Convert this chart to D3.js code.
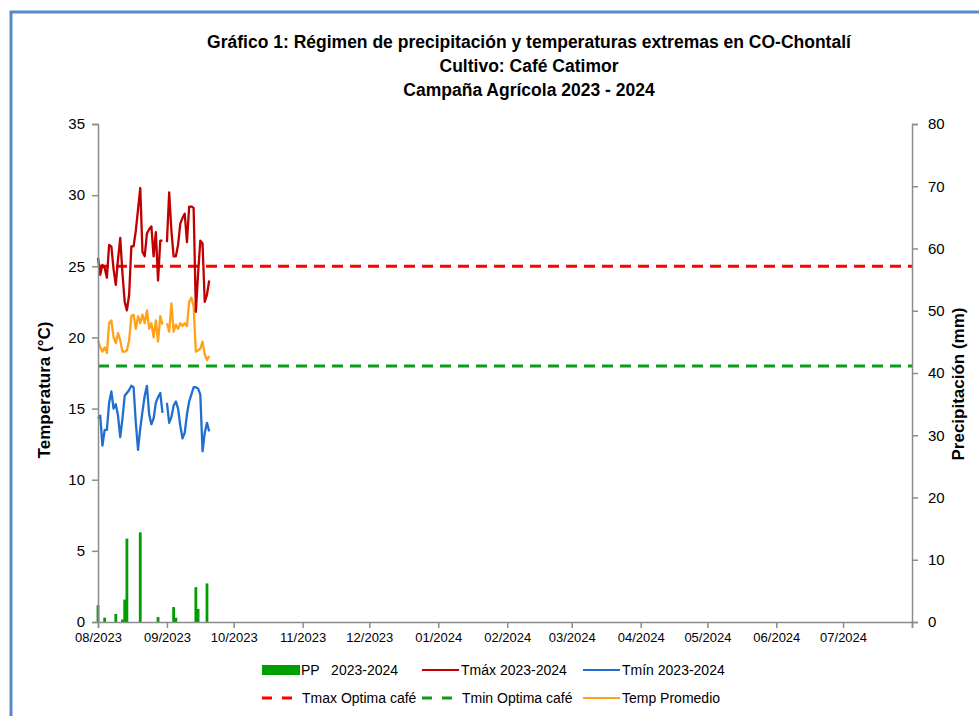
<!DOCTYPE html>
<html>
<head>
<meta charset="utf-8">
<script src="https://cdn.jsdelivr.net/npm/d3@7"></script>
<style>
  body { margin: 0; background: #fff; }
  svg { display: block; font-family: "Liberation Sans", Arial, sans-serif; }
</style>
</head>
<body>
<svg id="chart" width="979" height="716"></svg>
<script>
// daily series from 01/08/2023 (null = missing day)
var startDate = "2023-08-01"

var tmax = [25.6, 24.4, 25.1, 24.9, 24.2, 26.5, 26.4, 24.8, 23.7, 25.5,
            27.0, 24.5, 22.5, 21.9, 23.0, 26.4, 26.4, 27.5, 29.0, 30.5,
            26.0, 25.7, 27.3, 27.6, 27.8, 25.7, 27.4, 24.0, 26.8, 26.8,
            null, 26.7, 30.2, 27.5, 25.7, 25.7, 26.5, 28.0, 28.4, 28.7,
            26.7, 29.2, 29.2, 29.1, 21.8, 24.5, 26.8, 26.6, 22.5, 23.0, 24.0]

var tmin = [14.3, 14.5, 12.4, 13.5, 13.5, 15.4, 16.2, 15.0, 15.3, 14.5,
            13.0, 14.3, 15.9, 16.1, 16.3, 16.6, 16.5, 14.0, 12.1, 13.6,
            14.8, 15.9, 16.6, 14.6, 13.9, 14.3, 15.4, 15.8, 16.1, 14.7,
            null, 15.4, 14.0, 14.4, 15.2, 15.5, 15.0, 13.8, 12.9, 13.3,
            14.6, 15.5, 16.0, 16.5, 16.5, 16.4, 16.0, 12.0, 13.3, 14.0, 13.4]

var tmean = [19.8, 19.3, 19.0, 19.3, 18.9, 21.0, 21.2, 20.0, 19.6, 20.3,
             19.8, 19.0, 19.0, 19.1, 19.8, 21.5, 21.6, 20.6, 21.5, 21.0,
             21.6, 21.0, 21.9, 20.6, 21.0, 20.0, 21.2, 19.7, 21.5, 20.9,
             null, 21.0, 20.4, 22.4, 20.4, 20.9, 20.6, 21.0, 20.8, 21.0,
             20.8, 22.5, 22.8, 22.2, 19.0, 19.1, 19.2, 19.7, 18.8, 18.4, 18.7]

var pp = [2.7, 0, 0, 0.7, 0, 0, 0, 0, 1.3, 0,
          0, 0.4, 3.6, 13.4, 0, 0, 0, 0, 0, 14.4,
          0, 0, 0, 0, 0, 0, 0, 0.8, 0, 0,
          0, 0, 0, 0, 2.4, 0.7, 0, 0, 0, 0,
          0, 0, 0, 0, 5.6, 2.1, 0, 0, 0, 6.2, 0]

var tmaxOptima = 25
var tminOptima = 18

var tempTicks = [0, 5, 10, 15, 20, 25, 30, 35]
var ppTicks = [0, 10, 20, 30, 40, 50, 60, 70, 80]

var titleLines = [
    "Gráfico 1: Régimen de precipitación y temperaturas extremas en CO-Chontalí",
    "Cultivo: Café Catimor",
    "Campaña Agrícola 2023 - 2024"
]

var colors = {
    pp: "#009e00",
    tmax: "#c00000",
    tmin: "#1f6fd1",
    tmean: "#ffa21a",
    tmaxOpt: "#ff0000",
    tminOpt: "#0b9c1c",
    axis: "#8c8c8c"
}

var svg = d3.select("#chart")
var plotLeft = 98, plotRight = 912, plotTop = 124, plotBottom = 622

var day0 = d3.timeParse("%Y-%m-%d")(startDate)
var dayEnd = new Date(2024, 7, 1)
var dates = tmax.map(function (d, i) { return d3.timeDay.offset(day0, i) })

var x = d3.scaleTime()
    .domain([day0, dayEnd])
    .range([plotLeft, plotRight])
var yTemp = d3.scaleLinear().domain([0, 35]).range([plotBottom, plotTop])
var yPP = d3.scaleLinear().domain([0, 80]).range([plotBottom, plotTop])

// frame
svg.append("rect")
    .attr("x", 11).attr("y", 12)
    .attr("width", 1000).attr("height", 720)
    .attr("fill", "none")
    .attr("stroke", "#5a8ac6")
    .attr("stroke-width", 3)

// titles
svg.selectAll("text.title")
    .data(titleLines)
    .enter().append("text")
    .attr("class", "title")
    .attr("x", 529)
    .attr("y", function (d, i) { return 48 + i * 24 })
    .attr("text-anchor", "middle")
    .style("font-size", "17.5px")
    .style("font-weight", "bold")
    .text(function (d) { return d })

// precipitation bars
var barW = 2.8
svg.append("g").selectAll("rect")
    .data(pp.map(function (v, i) { return { date: dates[i], v: v } }).filter(function (d) { return d.v > 0 }))
    .enter().append("rect")
    .attr("x", function (d) { return x(d.date) - barW / 2 })
    .attr("y", function (d) { return yPP(d.v) })
    .attr("width", barW)
    .attr("height", function (d) { return yPP(0) - yPP(d.v) })
    .attr("fill", colors.pp)

// optimum reference lines
function drawOptimum(value, color) {
    svg.append("line")
        .attr("x1", plotLeft).attr("x2", plotRight)
        .attr("y1", yTemp(value)).attr("y2", yTemp(value))
        .attr("stroke", color)
        .attr("stroke-width", 3)
        .attr("stroke-dasharray", "11,7")
}
drawOptimum(tmaxOptima, colors.tmaxOpt)
drawOptimum(tminOptima, colors.tminOpt)

function drawSeries(values, color) {
    var line = d3.line()
        .defined(function (d) { return d != null })
        .x(function (d, i) { return x(dates[i]) })
        .y(function (d) { return yTemp(d) })
    svg.append("path")
        .datum(values)
        .attr("d", line)
        .attr("fill", "none")
        .attr("stroke", color)
        .attr("stroke-width", 2.3)
        .attr("stroke-linejoin", "round")
}
drawSeries(tmean, colors.tmean)
drawSeries(tmin, colors.tmin)
drawSeries(tmax, colors.tmax)

// axes
function styleAxis(g) {
    g.selectAll("path, line").attr("stroke", colors.axis).attr("stroke-width", 1.5)
    g.selectAll("text").attr("fill", "#000").style("font-family", "Liberation Sans, Arial, sans-serif")
}

svg.append("g")
    .attr("transform", "translate(" + plotLeft + ",0)")
    .call(d3.axisLeft(yTemp).tickValues(tempTicks).tickSizeOuter(0).tickSize(6).tickPadding(7))
    .call(styleAxis)
    .selectAll("text").style("font-size", "15px")

svg.append("g")
    .attr("transform", "translate(" + plotRight + ",0)")
    .call(d3.axisRight(yPP).tickValues(ppTicks).tickSizeOuter(0).tickSize(6).tickPadding(10))
    .call(styleAxis)
    .selectAll("text").style("font-size", "15px")

var months = d3.timeMonth.range(day0, dayEnd)
svg.append("g")
    .attr("transform", "translate(0," + plotBottom + ")")
    .call(d3.axisBottom(x).tickValues(months.concat([dayEnd])).tickFormat(function (d) {
        return d < dayEnd ? d3.timeFormat("%m/%Y")(d) : ""
    }).tickSizeOuter(0).tickSize(6).tickPadding(5))
    .call(styleAxis)
    .selectAll("text").style("font-size", "13px")

// axis titles
svg.append("text")
    .attr("transform", "translate(50,390) rotate(-90)")
    .attr("text-anchor", "middle")
    .style("font-size", "17px")
    .style("font-weight", "bold")
    .text("Temperatura (°C)")

svg.append("text")
    .attr("transform", "translate(964,384) rotate(-90)")
    .attr("text-anchor", "middle")
    .style("font-size", "17px")
    .style("font-weight", "bold")
    .text("Precipitación (mm)")

// legend
var legendItems = [
    { label: "PP   2023-2024", kind: "bar", color: colors.pp, x: 262, y: 670 },
    { label: "Tmáx 2023-2024", kind: "line", color: colors.tmax, x: 422, y: 670 },
    { label: "Tmín 2023-2024", kind: "line", color: colors.tmin, x: 583, y: 670 },
    { label: "Tmax Optima café", kind: "dash", color: colors.tmaxOpt, x: 262, y: 698 },
    { label: "Tmin Optima café", kind: "dash", color: colors.tminOpt, x: 422, y: 698 },
    { label: "Temp Promedio", kind: "line", color: colors.tmean, x: 583, y: 698 }
]

var legend = svg.append("g")
legendItems.forEach(function (item) {
    var g = legend.append("g").attr("transform", "translate(" + item.x + "," + item.y + ")")
    if (item.kind == "bar") {
        g.append("rect").attr("x", 0).attr("y", -5).attr("width", 38).attr("height", 10).attr("fill", item.color)
    } else {
        g.append("line")
            .attr("x1", 0).attr("x2", item.kind == "dash" ? 31 : 37)
            .attr("y1", 0).attr("y2", 0)
            .attr("stroke", item.color)
            .attr("stroke-width", item.kind == "dash" ? 3 : 2)
            .attr("stroke-dasharray", item.kind == "dash" ? "10,10" : null)
    }
    g.append("text")
        .attr("x", item.kind == "dash" ? 40 : 39)
        .attr("y", 5)
        .style("font-size", "14px")
        .style("white-space", "pre")
        .text(item.label)
})
</script>
</body>
</html>
